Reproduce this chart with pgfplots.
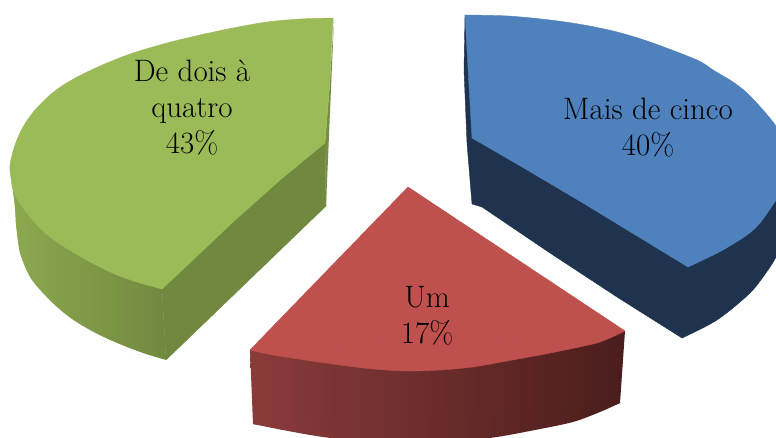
\documentclass[border=0pt]{standalone}
\usepackage{pgfplots}
\pgfplotsset{compat=1.18}
\definecolor{greenTop}{HTML}{9BBB59}
\definecolor{greenSideL}{HTML}{8CA84F}
\definecolor{greenDark}{HTML}{71893F}
\definecolor{blueTop}{HTML}{4F81BD}
\definecolor{blueDark}{HTML}{1F334F}
\definecolor{redTop}{HTML}{BE504D}
\definecolor{redSideL}{HTML}{8A3B3A}
\definecolor{redSideR}{HTML}{4A1D1C}
\tikzset{labeltext/.style={align=center, font=\fontsize{31}{36}\selectfont, text=black, inner sep=0pt}}
\pgfplotsset{
  % a slice face: same-coloured hairline so that adjoining pieces show no seam
  face/.style={fill=#1, draw=#1, line width=0.4pt},
  greenside/.style={left color=greenSideL, right color=greenDark},
  redside/.style={left color=redSideL, right color=redSideR},
}
\begin{document}
\begin{tikzpicture}
\begin{axis}[
  scale only axis, width=776pt, height=438pt,
  xmin=0, xmax=776, ymin=0, ymax=438, y dir=reverse,
  hide axis, clip=true,
  every axis plot/.append style={no marks, draw=none, forget plot, line join=round},
]
% page background
\addplot[fill=white] coordinates {(0,0)(776,0)(776,438)(0,438)} -- cycle;

% De dois a quatro: curved side (body and rim), cut faces, top (rim and body)
\addplot[greenside] coordinates {(13,190)(20,253)(57,306)(90,329)(166,359)(162,289)} -- cycle;
\addplot[smooth, greenside] coordinates {
 (13,190)(15,205)(16,225)(20,253)(30,277)(42,292)(57,307)(72,319)(90,330)(108,339)(127,347)(146,354)(166,360)} -- cycle;
\addplot[face=greenDark] coordinates {(162,289)(166,360)(326,206)(325,143)(280,180)(233,222)(195,258)} -- cycle;
\addplot[fill=greenDark!90!greenTop] coordinates {(334,18)(326,206)(325,143)(330,80)} -- cycle;
\addplot[smooth, face=greenTop] coordinates {
 (333,18)(300,19)(267,22)(233,28)(200,35)(167,43)(133,53)(107,63)(83,74)(65,84)(50,95)(35,110)(23,127)(15,145)
 (10,165)(11,178)(13,190)(19,202)(27,213)(38,226)(50,237)(66,248)(83,258)(100,267)(117,275)(140,283)(162,289)} -- cycle;
\addplot[face=greenTop] coordinates {(333,18)(162,289)(195,258)(233,222)(280,180)(325,143)(330,80)} -- cycle;

% Mais de cinco: sides and top
\addplot[face=blueDark] coordinates {
 (465,15)(464,70)(467,143)(472,204)(482,207)(550,253)(617,297)(682,338)(776,257)(776,190)(500,60)} -- cycle;
\addplot[smooth, face=blueDark] coordinates {(682,338)(717,320)(750,293)(768,270)(776,257)(782,245)} -- cycle;
\addplot[smooth, face=blueTop] coordinates {
 (465,15)(508,16)(550,20)(584,25)(617,32)(650,42)(697,60)(713,70)(733,82)(747,93)(763,110)(776,126)(785,142)(789,165)
 (785,185)(776,200)(760,223)(747,235)(723,250)(705,259)(688,267)} -- cycle;
\addplot[face=blueTop] coordinates {(465,15)(688,267)(583,203)(517,164)(472,138)} -- cycle;

% Um: front side (body and rim) and top (rim and body)
\addplot[redside] coordinates {(250,350)(253,424)(323,436)(497,436)(620,403)(625,331)} -- cycle;
\addplot[smooth, redside] coordinates {
 (253,424)(288,431)(323,437)(360,441)(410,443)(460,441)(497,437)(535,430)(573,422)(600,412)(620,403)} -- cycle;
\addplot[smooth, face=redTop] coordinates {
 (625,331)(600,342)(570,349)(540,355)(507,361)(473,367)(440,370)(407,371)(373,369)(340,365)(305,360)(273,355)(250,350)} -- cycle;
\addplot[face=redTop] coordinates {(408,187)(625,331)(250,350)} -- cycle;

% Slice labels
\node[labeltext] at (axis cs:192,108) {De dois à\\quatro\\43\%};
\node[labeltext] at (axis cs:648,128) {Mais de cinco\\40\%};
\node[labeltext] at (axis cs:427,316) {Um\\17\%};
\end{axis}
\end{tikzpicture}
\end{document}
